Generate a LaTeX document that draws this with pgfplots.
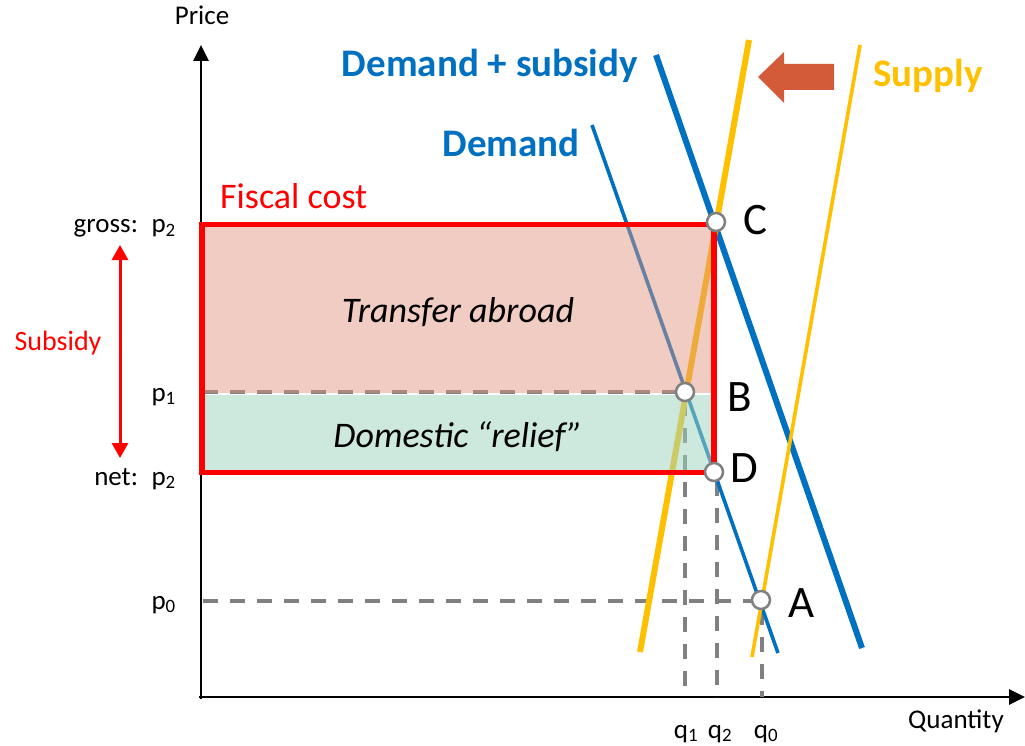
\documentclass[border=0pt]{standalone}
\usepackage{fontspec}
\setmainfont{Carlito}
\usepackage{pgfplots}
\pgfplotsset{compat=1.18}
\usetikzlibrary{arrows.meta}
\definecolor{myblue}{RGB}{0,112,192}
\definecolor{myyellow}{RGB}{255,192,0}
\definecolor{myred}{RGB}{255,0,0}
\definecolor{mygray}{RGB}{128,128,128}
\definecolor{arrowred}{RGB}{211,91,58}
\definecolor{pinkfill}{RGB}{223,147,128}
\definecolor{tealfill}{RGB}{160,211,189}
\newcommand{\fs}[1]{\fontsize{#1}{#1}\selectfont}
\begin{document}
\begin{tikzpicture}
\begin{axis}[scale only axis, width=1025pt, height=746pt,
  xmin=0, xmax=1025, ymin=0, ymax=746, y dir=reverse,
  hide axis, clip=false]
% axes
\addplot[black, line width=2.7pt, -{Triangle[width=15pt,length=16pt]}] coordinates {(201,699) (201,45)};
\addplot[black, line width=2.7pt, -{Triangle[width=15pt,length=16pt]}] coordinates {(199,697) (1025,697)};
% dashed guides
\addplot[mygray, line width=4pt, dash pattern=on 15pt off 12pt] coordinates {(203,392) (685,392)};
\addplot[mygray, line width=4pt, dash pattern=on 15pt off 12pt] coordinates {(203,601) (761,601)};
\addplot[mygray, line width=4pt, dash pattern=on 15pt off 12pt] coordinates {(685,401) (685,697)};
\addplot[mygray, line width=4pt, dash pattern=on 15pt off 12pt] coordinates {(717,481) (717,697)};
\addplot[mygray, line width=4pt, dash pattern=on 15pt off 12pt] coordinates {(762,610) (762,697)};
% curves
\addplot[myblue, line width=6pt] coordinates {(656,55) (862,648)};
\addplot[myblue, line width=3.6pt] coordinates {(592,125) (778,653)};
\addplot[myyellow, line width=6pt] coordinates {(749,40) (640,652)};
\addplot[myyellow, line width=3.6pt] coordinates {(860,45) (752,657)};
% fills
\addplot[draw=none, fill=pinkfill, fill opacity=0.47] coordinates {(202,224) (714,224) (714,392.5) (202,392.5)} --cycle;
\addplot[draw=none, fill=tealfill, fill opacity=0.53] coordinates {(202,395) (714,395) (714,472) (202,472)} --cycle;
% fiscal rectangle
\addplot[myred, line width=5.5pt] coordinates {(202,224.5) (714,224.5) (714,472.5) (202,472.5)} --cycle;
% subsidy arrow
\addplot[myred, line width=3pt, {Triangle[width=16pt,length=15pt]}-{Triangle[width=16pt,length=15pt]}] coordinates {(120,245) (120,458)};
% block arrow
\addplot[draw=none, fill=arrowred] coordinates {(758,77) (784,52) (784,64) (834,64) (834,90) (784,90) (784,103)} --cycle;
% equilibrium points
\addplot[only marks, mark=*, mark size=9pt, mark options={fill=white, draw=mygray, line width=2.5pt}] coordinates {(716,222) (685,392) (714,472) (761,600)};
% texts
\node[anchor=base, inner sep=0, font=\fs{27}] at (axis cs:202,25) {Price};
\node[anchor=base, inner sep=0, font=\fs{27}] at (axis cs:956,728) {Quantity};
\node[anchor=base east, inner sep=0, font=\fs{27}] at (axis cs:176,233) {gross:\hspace{0.2em} p\textsubscript{2}};
\node[anchor=base east, inner sep=0, font=\fs{27}] at (axis cs:176,401) {p\textsubscript{1}};
\node[anchor=base east, inner sep=0, font=\fs{27}] at (axis cs:176,485) {net:\hspace{0.2em} p\textsubscript{2}};
\node[anchor=base east, inner sep=0, font=\fs{27}] at (axis cs:176,609) {p\textsubscript{0}};
\node[anchor=base, inner sep=0, font=\fs{27}] at (axis cs:686,738) {q\textsubscript{1}};
\node[anchor=base, inner sep=0, font=\fs{27}] at (axis cs:720,738) {q\textsubscript{2}};
\node[anchor=base, inner sep=0, font=\fs{27}] at (axis cs:766,738) {q\textsubscript{0}};
\node[anchor=base, inner sep=0, font=\fs{28}, text=myred] at (axis cs:58,350) {Subsidy};
\node[anchor=base west, inner sep=0, font=\fs{36}, text=myred] at (axis cs:220,209) {Fiscal cost};
\node[anchor=base, inner sep=0, font=\fs{36}\itshape] at (axis cs:458,322) {Transfer abroad};
\node[anchor=base, inner sep=0, font=\fs{36}\itshape] at (axis cs:458,447) {Domestic “relief”};
\node[anchor=base east, inner sep=0, font=\fs{39}\bfseries, text=myblue] at (axis cs:638,77) {Demand + subsidy};
\node[anchor=base, inner sep=0, font=\fs{39}\bfseries, text=myblue] at (axis cs:511,157) {Demand};
\node[anchor=base west, inner sep=0, font=\fs{39}\bfseries, text=myyellow] at (axis cs:873,87) {Supply};
\node[anchor=base west, inner sep=0, font=\fs{45}] at (axis cs:743,234) {C};
\node[anchor=base west, inner sep=0, font=\fs{45}] at (axis cs:727,411) {B};
\node[anchor=base west, inner sep=0, font=\fs{45}] at (axis cs:730,482) {D};
\node[anchor=base west, inner sep=0, font=\fs{45}] at (axis cs:788,617) {A};
\end{axis}
\pgfresetboundingbox
\useasboundingbox (current axis.south west) rectangle (current axis.north east);
\end{tikzpicture}
\end{document}
